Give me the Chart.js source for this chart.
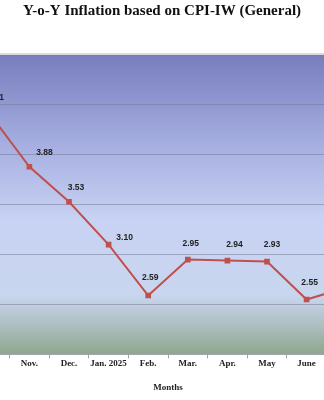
<!DOCTYPE html>
<html>
<head>
<meta charset="utf-8">
<script src="https://cdn.jsdelivr.net/npm/chart.js@4.4.1/dist/chart.umd.min.js"></script>
<style>
	html, body { margin: 0; padding: 0; background: #fff; overflow: hidden; }
	#wrap { position: relative; width: 324px; height: 400px; overflow: hidden; }
	#box { position: absolute; left: -46px; top: 0; width: 416px; height: 400px; }
</style>
</head>
<body>
<div id="wrap"><div id="box"><canvas id="cpi_chart"></canvas></div></div>
<script>
const months = ["Oct.", "Nov.", "Dec.", "Jan. 2025", "Feb.", "Mar.", "Apr.", "May", "June", "July"];
const inflation = [4.41, 3.88, 3.53, 3.10, 2.59, 2.95, 2.94, 2.93, 2.55, 2.67];
const yTicks = [2.0, 2.5, 3.0, 3.5, 4.0, 4.5, 5.0];

// where each value label sits relative to its marker
const labelShift = [[6, -16], [15, -14], [7, -14], [16, -7], [2, -18], [3, -16], [7, -16], [5, -17], [3, -17], [5, -15]];

const plotBackground = {
	id: 'plotBackground',
	beforeDraw(chart) {
		const a = chart.chartArea;
		const c = chart.ctx;
		const g = c.createLinearGradient(0, a.top, 0, a.bottom);
		g.addColorStop(0, '#787dbe');
		g.addColorStop(0.3, '#a6afe0');
		g.addColorStop(0.55, '#c8d2f3');
		g.addColorStop(0.8, '#c9d6ef');
		g.addColorStop(0.9, '#aebfc2');
		g.addColorStop(1, '#8ea78c');
		c.save();
		c.fillStyle = g;
		c.fillRect(a.left, a.top, a.right - a.left, a.bottom - a.top);
		c.fillStyle = '#d9d9de';
		c.fillRect(a.left, a.top - 2, a.right - a.left, 2);
		c.restore();
	}
};

const valueLabels = {
	id: 'valueLabels',
	afterDatasetsDraw(chart) {
		const c = chart.ctx;
		const pts = chart.getDatasetMeta(0).data;
		c.save();
		c.font = 'bold 8.5px "Liberation Sans", Arial, sans-serif';
		c.fillStyle = '#222222';
		c.textAlign = 'center';
		c.textBaseline = 'middle';
		pts.forEach((p, i) => {
			c.fillText(inflation[i].toFixed(2), p.x + labelShift[i][0], p.y + labelShift[i][1]);
		});
		c.restore();
	}
};

new Chart(document.getElementById('cpi_chart'), {
	type: 'line',
	data: {
		labels: months,
		datasets: [{
			data: inflation,
			borderColor: '#c0504d',
			backgroundColor: '#c0504d',
			borderWidth: 2,
			tension: 0,
			pointStyle: 'rect',
			pointRadius: 4,
			pointBorderWidth: 0,
		}]
	},
	options: {
		responsive: true,
		maintainAspectRatio: false,
		animation: false,
		events: [],
		layout: {
			padding: { left: 0, right: 0, top: 0, bottom: 7 }
		},
		plugins: {
			legend: { display: false },
			tooltip: { enabled: false },
			title: {
				display: true,
				text: 'Y-o-Y Inflation based on CPI-IW (General)',
				font: {
					size: 15,
					family: '"Liberation Serif", "Times New Roman", serif',
					weight: 'bold',
				},
				color: '#111111',
				padding: { top: 2, bottom: 35 },
			}
		},
		scales: {
			y: {
				min: yTicks[0],
				max: yTicks[yTicks.length - 1],
				afterBuildTicks(scale) {
					scale.ticks = yTicks.map(v => ({ value: v }));
				},
				afterFit(scale) {
					// the value axis sits off the left edge of the crop
					scale.width = 16;
				},
				grid: {
					color: 'rgba(120, 124, 150, 0.55)',
					drawTicks: false,
				},
				border: { display: false },
				ticks: { display: false },
			},
			x: {
				offset: true,
				grid: {
					offset: true,
					drawOnChartArea: false,
					drawTicks: true,
					tickLength: 4,
					color: '#a0a0a0',
				},
				border: { display: false },
				ticks: {
					autoSkip: false,
					maxRotation: 0,
					padding: 0,
					color: '#222222',
					font: {
						size: 9,
						family: '"Liberation Serif", "Times New Roman", serif',
						weight: 'bold',
					},
				},
				title: {
					display: true,
					text: 'Months',
					color: '#222222',
					font: {
						size: 9,
						family: '"Liberation Serif", "Times New Roman", serif',
						weight: 'bold',
					},
					padding: { top: 13, bottom: 0 },
				}
			}
		}
	},
	plugins: [plotBackground, valueLabels]
});
</script>
</body>
</html>
